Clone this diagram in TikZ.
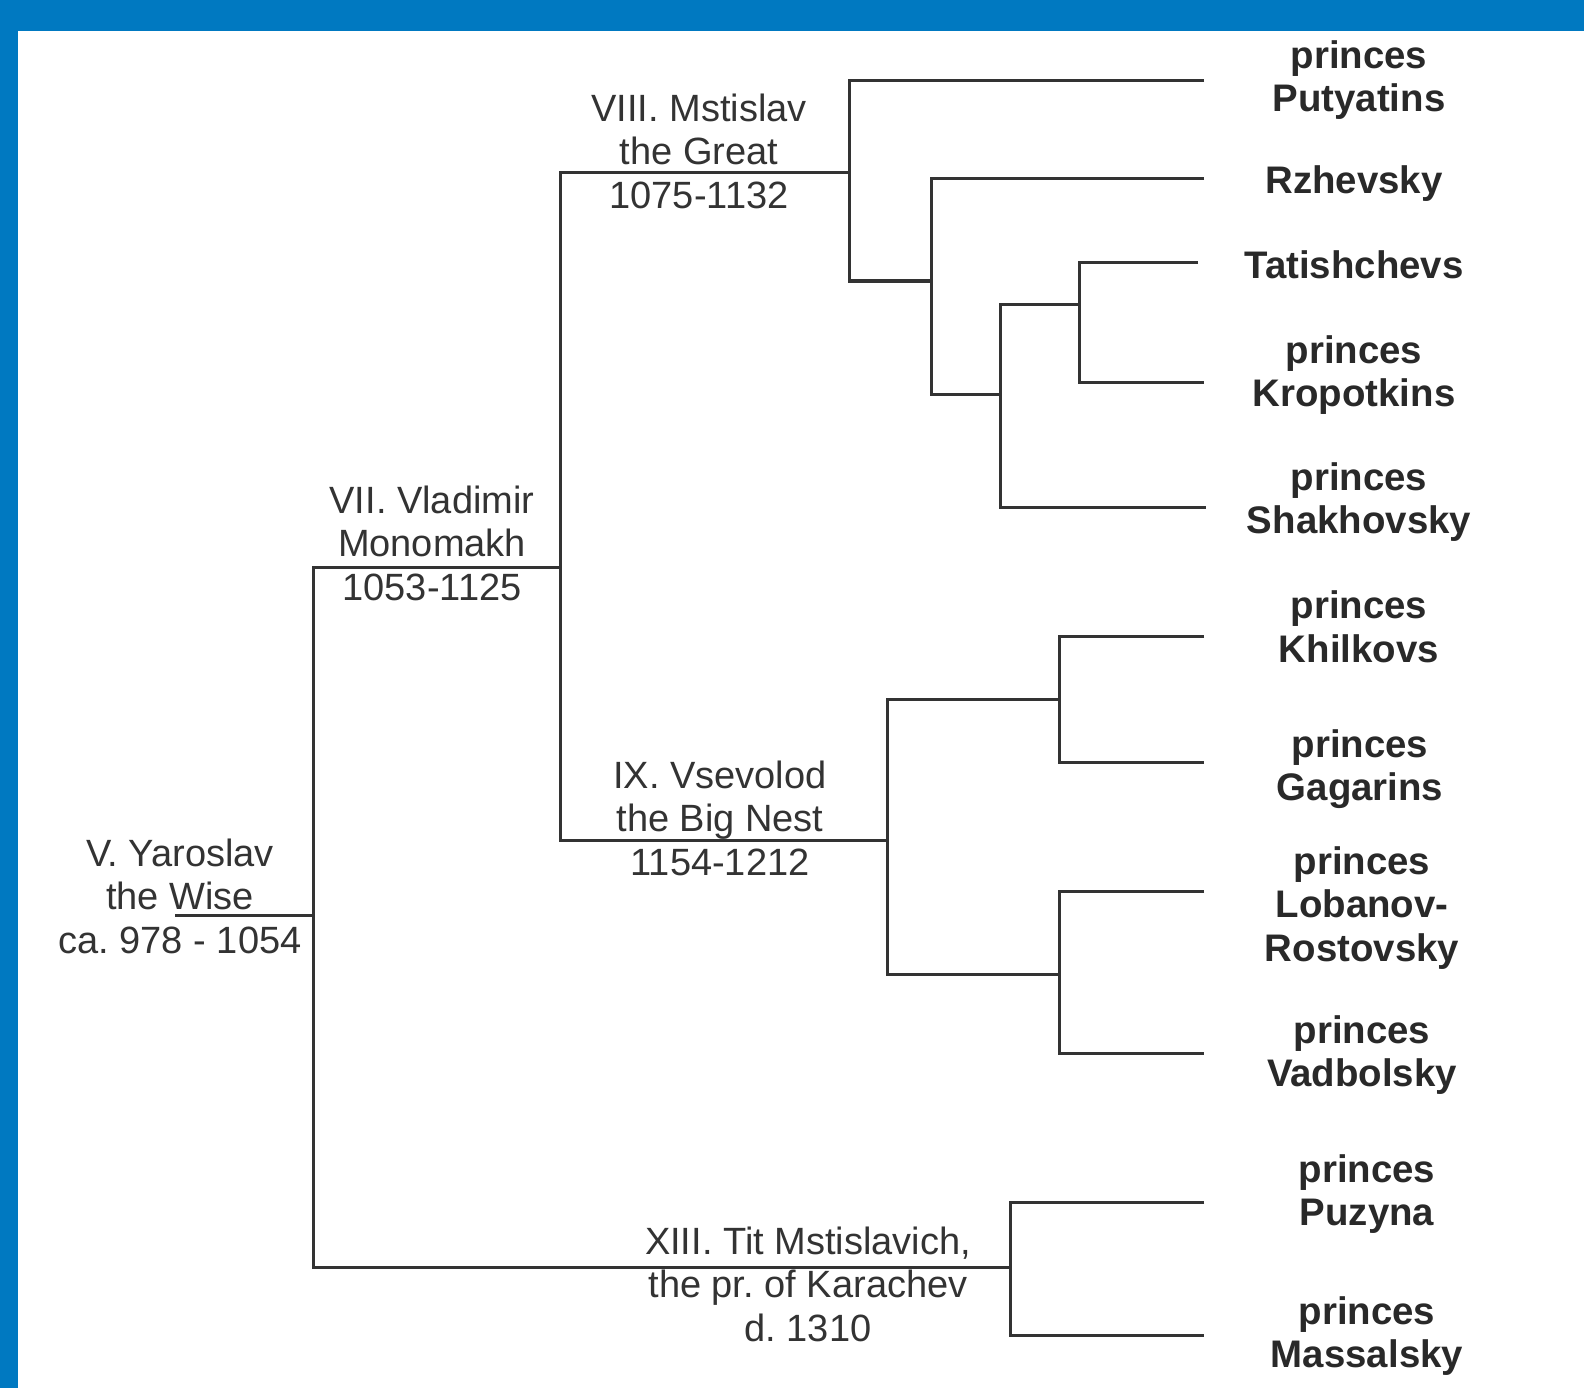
\documentclass[tikz,border=0pt]{standalone}
\usepackage{fontspec}
\setmainfont{Liberation Sans}
\definecolor{bandblue}{RGB}{0,121,193}
\definecolor{ink}{RGB}{51,51,51}
\begin{document}
\begin{tikzpicture}[x=1pt,y=-1pt,
  link/.style={draw=ink,line width=3pt,line join=miter},
  gen/.style={text=ink,align=center,inner sep=0pt,font=\frenchspacing\fontsize{38}{43.5}\selectfont},
  leaf/.style={text=ink!80!black,align=center,inner sep=0pt,font=\bfseries\fontsize{38.4}{43.5}\selectfont}]
\useasboundingbox (0,0) rectangle (1584,1388);
\fill[white] (0,0) rectangle (1584,1388);
\fill[bandblue] (0,0) rectangle (1584,31);
\fill[bandblue] (0,0) rectangle (18,1388);
% junction coordinates
\coordinate (r0) at (175,915);
\coordinate (r1) at (313,915);
\coordinate (t7) at (313,567);
\coordinate (t13) at (313,1267);
\coordinate (v7) at (560,567);
\coordinate (v7top) at (560,173);
\coordinate (v7bot) at (560,840);
\coordinate (v8) at (849,173);
\coordinate (v8top) at (849,81);
\coordinate (v8bot) at (849,281);
\coordinate (a) at (931,281);
\coordinate (atop) at (931,179);
\coordinate (abot) at (931,394);
\coordinate (b) at (1000,394);
\coordinate (btop) at (1000,304);
\coordinate (bbot) at (1000,507);
\coordinate (c) at (1079,304);
\coordinate (ctop) at (1079,263);
\coordinate (cbot) at (1079,382);
\coordinate (v9) at (887,840);
\coordinate (v9top) at (887,699);
\coordinate (v9bot) at (887,974);
\coordinate (d) at (1059,699);
\coordinate (dtop) at (1059,636);
\coordinate (dbot) at (1059,762);
\coordinate (e) at (1059,974);
\coordinate (etop) at (1059,891);
\coordinate (ebot) at (1059,1053);
\coordinate (v13) at (1010,1267);
\coordinate (v13top) at (1010,1202);
\coordinate (v13bot) at (1010,1335);
% leaf line ends
\coordinate (putE) at (1204,81);
\coordinate (rzhE) at (1204,179);
\coordinate (tatE) at (1198,263);
\coordinate (kroE) at (1204,382);
\coordinate (shaE) at (1206,507);
\coordinate (khiE) at (1204,636);
\coordinate (gagE) at (1204,762);
\coordinate (lobE) at (1204,891);
\coordinate (vadE) at (1204,1053);
\coordinate (puzE) at (1204,1202);
\coordinate (masE) at (1204,1335);
% connectors
\draw[link] (r0) -- (r1);
\draw[link] (v7) -- (t7) -- (t13) -- (v13);
\draw[link] (v8) -- (v7top) -- (v7bot) -- (v9);
\draw[link] (putE) -- (v8top) -- (v8bot) -- (a);
\draw[link] (rzhE) -- (atop) -- (abot) -- (b);
\draw[link] (c) -- (btop) -- (bbot) -- (shaE);
\draw[link] (tatE) -- (ctop) -- (cbot) -- (kroE);
\draw[link] (d) -- (v9top) -- (v9bot) -- (e);
\draw[link] (khiE) -- (dtop) -- (dbot) -- (gagE);
\draw[link] (lobE) -- (etop) -- (ebot) -- (vadE);
\draw[link] (puzE) -- (v13top) -- (v13bot) -- (masE);
% generation labels
\node[gen] (yar) at (180,896) {V. Yaroslav\\the Wise\\ca. 978 - 1054};
\node[gen] (vla) at (432,543) {VII. Vladimir\\Monomakh\\1053-1125};
\node[gen] (mst) at (699,151) {VIII. Mstislav\\the Great\\1075-1132};
\node[gen] (vse) at (720,818) {IX. Vsevolod\\the Big Nest\\1154-1212};
\node[gen] (tit) at (808,1284) {XIII. Tit Mstislavich,\\the pr. of Karachev\\d. 1310};
% leaves
\node[leaf] (put) at (1359,80) {princes\\Putyatins};
\node[leaf] (rzh) at (1354,184) {Rzhevsky};
\node[leaf] (tat) at (1354,265) {Tatishchevs};
\node[leaf] (kro) at (1354,375) {princes\\Kropotkins};
\node[leaf] (sha) at (1359,502) {princes\\Shakhovsky};
\node[leaf] (khi) at (1359,627) {princes\\Khilkovs};
\node[leaf] (gag) at (1360,769) {princes\\Gagarins};
\node[leaf] (lob) at (1362,908) {princes\\Lobanov-\\Rostovsky};
\node[leaf] (vad) at (1362,1055) {princes\\Vadbolsky};
\node[leaf] (puz) at (1367,1194) {princes\\Puzyna};
\node[leaf] (mas) at (1367,1336) {princes\\Massalsky};
\end{tikzpicture}
\end{document}
